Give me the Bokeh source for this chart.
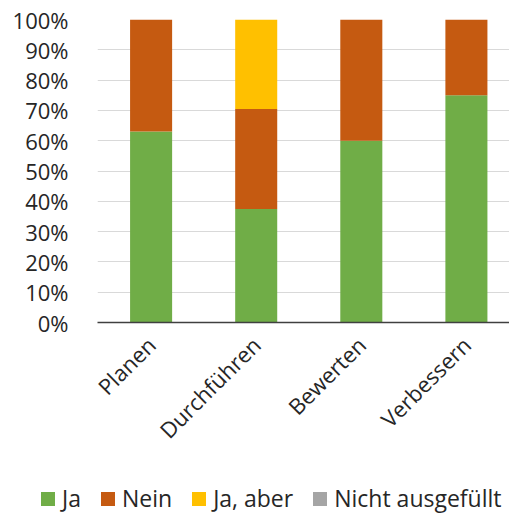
from bokeh.plotting import figure
from bokeh.layouts import column
from bokeh.models import (Range1d, FixedTicker, NumeralTickFormatter,
                          ColumnDataSource, Div)
from bokeh.embed import file_html
from bokeh.resources import INLINE
import math

categories = ["Planen", "Durchführen", "Bewerten", "Verbessern"]
series_names = ["Ja", "Nein", "Ja, aber", "Nicht ausgefüllt"]
ja = [0.63, 0.375, 0.60, 0.75]
nein = [0.37, 0.33, 0.40, 0.25]
ja_aber = [0.0, 0.295, 0.0, 0.0]
nicht = [0.0, 0.0, 0.0, 0.0]
colors = ["#70AD47", "#C55A11", "#FFC000", "#A5A5A5"]
y_ticks = [0, 0.1, 0.2, 0.3, 0.4, 0.5, 0.6, 0.7, 0.8, 0.9, 1.0]

FONT = "Open Sans"
FS = "22px"
keys = ["ja", "nein", "ja_aber", "nicht"]

xs = [i + 0.5 for i in range(len(categories))]
src = ColumnDataSource(dict(x=xs, ja=ja, nein=nein, ja_aber=ja_aber, nicht=nicht))

p = figure(frame_width=412, frame_height=303, output_backend="svg", toolbar_location=None,
           x_range=Range1d(-0.01, 3.91), y_range=Range1d(0, 1),
           min_border_left=97, min_border_right=0, min_border_top=19,
           min_border_bottom=156)

p.vbar_stack(keys, x="x", width=0.4, color=colors, line_color=None, source=src)

p.xaxis.ticker = FixedTicker(ticks=xs)
p.xaxis.major_label_overrides = {x: c for x, c in zip(xs, categories)}
p.xaxis.major_label_orientation = math.pi / 4
p.xaxis.major_tick_line_color = None
p.xaxis.minor_tick_line_color = None
p.xaxis.axis_line_color = "#404040"
p.xaxis.axis_line_width = 1.5
p.xaxis.major_label_text_font = FONT
p.xaxis.major_label_text_font_size = FS
p.xaxis.major_label_text_color = "#262626"
p.xaxis.major_label_standoff = 12

p.yaxis.ticker = FixedTicker(ticks=y_ticks)
p.yaxis.formatter = NumeralTickFormatter(format="0%")
p.yaxis.axis_line_color = None
p.yaxis.major_tick_line_color = None
p.yaxis.minor_tick_line_color = None
p.yaxis.major_label_text_font = FONT
p.yaxis.major_label_text_font_size = FS
p.yaxis.major_label_text_color = "#262626"
p.yaxis.major_label_standoff = 23

p.xgrid.grid_line_color = None
p.ygrid.grid_line_color = "#D9D9D9"
p.ygrid.grid_line_width = 1
p.outline_line_color = None

# legend strip below the chart, built from the series names and colours
items_html = "".join(
    f'<span style="display:inline-flex;align-items:center;margin-right:20px;">'
    f'<span style="display:inline-block;width:14px;height:14px;background:{c};'
    f'margin-right:7px;"></span>{n}</span>'
    for n, c in zip(series_names, colors)
)
legend_html = (
    f'<div style="display:flex;align-items:center;box-sizing:border-box;height:35px;'
    f'padding-top:6px;padding-left:41px;line-height:1;'
    f'font-family:\'{FONT}\';font-size:23px;color:#262626;white-space:nowrap;">'
    f'{items_html}</div>'
)
q = Div(text=legend_html, width=509, height=35, margin=0)

layout = column(p, q, spacing=0)
open("out.html", "w").write(file_html(layout, INLINE))
